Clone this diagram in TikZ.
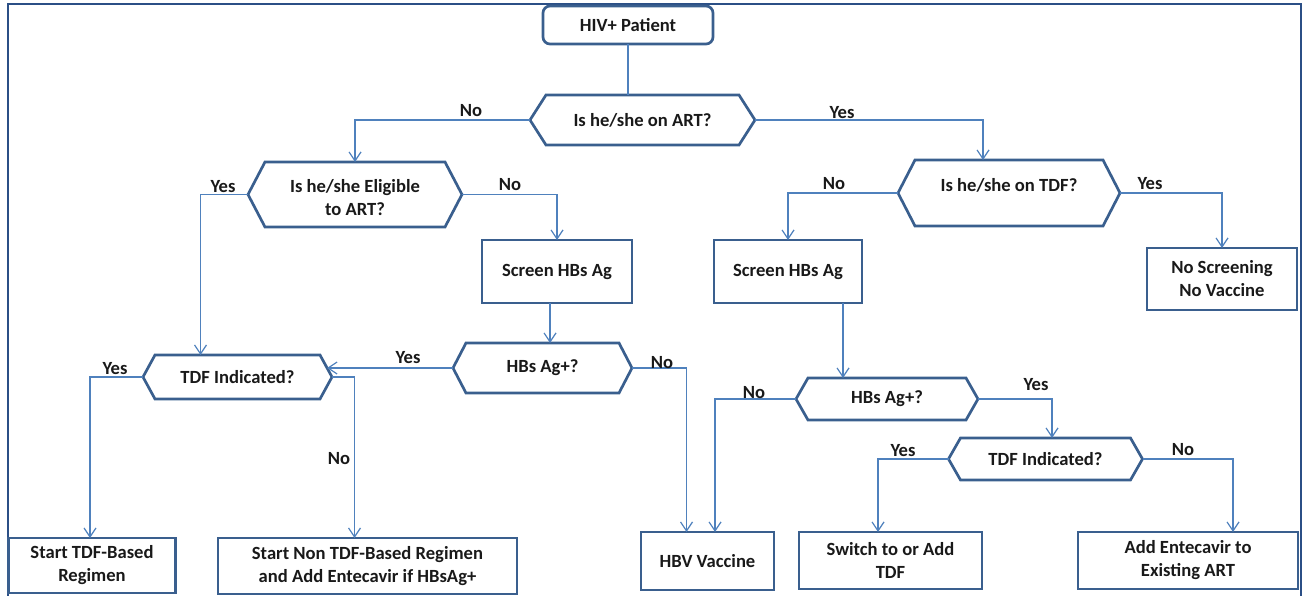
\documentclass[tikz,border=0pt]{standalone}
\usepackage{fontspec}
\setmainfont{Carlito}
\usetikzlibrary{arrows.meta}

\definecolor{shapeblue}{HTML}{3A5F8E}
\definecolor{linkblue}{HTML}{4F81BD}
\definecolor{framenavy}{HTML}{2B4F86}

% hexagonal decision outline around a (borderless) node
\newcommand{\hexframe}[2]{%
  \draw[hexline] (#1.west) -- ([xshift=#2]#1.north west) -- ([xshift=-#2]#1.north east)
    -- (#1.east) -- ([xshift=-#2]#1.south east) -- ([xshift=#2]#1.south west) -- cycle;}

\begin{document}
\begin{tikzpicture}[x=1pt, y=-1pt,
  font=\fontsize{18.6}{23}\selectfont\bfseries,
  every node/.style={inner sep=0pt, outer sep=0pt, align=center, text=black!90},
  box/.style={draw=shapeblue, line width=2.7pt},
  roundbox/.style={box, rounded corners=7pt},
  hexnode/.style={},
  hexline/.style={draw=shapeblue, line width=2.7pt, line join=miter},
  conn/.style={draw=linkblue, line width=1.3pt, -{Straight Barb[length=9pt,width=12pt,line width=1.2pt]}},
  plainconn/.style={draw=linkblue, line width=1.3pt},
  lbl/.style={}
]
\useasboundingbox (0,0) rectangle (1304,596);

% outer frame
\draw[framenavy, line width=2.4pt] (8,596) -- (8,4) -- (1301,4) -- (1301,596);

% ---- nodes ----
\node[roundbox, minimum width=170pt, minimum height=38pt] (hiv) at (628,25) {HIV+ Patient};

\node[hexnode, minimum width=225pt, minimum height=50pt] (art) at (642.5,120) {Is he/she on ART?};
\hexframe{art}{16pt}

\node[hexnode, minimum width=214pt, minimum height=65pt,
  label={[yshift=-3pt, align=center]center:{Is he/she Eligible\\to ART?}}] (elig) at (355,194.5) {};
\hexframe{elig}{17pt}

\node[hexnode, minimum width=222pt, minimum height=66pt, text depth=17pt] (ontdf) at (1009,193) {Is he/she on TDF?};
\hexframe{ontdf}{17pt}

\node[box, minimum width=150pt, minimum height=63pt] (scrL) at (557,271.5) {Screen HBs Ag};
\node[box, minimum width=148pt, minimum height=63pt] (scrR) at (788,271.5) {Screen HBs Ag};
\node[box, minimum width=150pt, minimum height=62pt] (noscr) at (1222,279) {No Screening\\No Vaccine};

\node[hexnode, minimum width=179pt, minimum height=50pt] (hbsL) at (542.5,368) {HBs Ag+?};
\hexframe{hbsL}{13pt}

\node[hexnode, minimum width=189pt, minimum height=44pt] (tdfL) at (237.5,377) {TDF Indicated?};
\hexframe{tdfL}{12pt}

\node[hexnode, minimum width=182pt, minimum height=42pt] (hbsR) at (887,399) {HBs Ag+?};
\hexframe{hbsR}{12pt}

\node[hexnode, minimum width=194pt, minimum height=42pt] (tdfR) at (1045.5,459) {TDF Indicated?};
\hexframe{tdfR}{12pt}

\node[box, minimum width=167pt, minimum height=55pt] (startTDF) at (92,565.5) {Start TDF-Based\\Regimen};
\node[box, minimum width=299pt, minimum height=56pt] (startNon) at (367.5,566) {Start Non TDF-Based Regimen\\and Add Entecavir if HBsAg+};
\node[box, minimum width=133pt, minimum height=58pt] (hbv) at (707.5,561) {HBV Vaccine};
\node[box, minimum width=183pt, minimum height=57pt] (switch) at (890.5,560.5) {Switch to or Add\\TDF};
\node[box, minimum width=220pt, minimum height=57pt] (addEnt) at (1188,560.5) {Add Entecavir to\\Existing ART};

% ---- connectors ----
\draw[plainconn] (hiv.south) -- (hiv.south |- art.north);
\draw[conn] (art.west) -| (elig.north);
\draw[conn] (art.east) -| ([xshift=-26pt]ontdf.north);
\draw[conn] (elig.west) -| ([xshift=-37pt]tdfL.north);
\draw[conn] (elig.east) -| (scrL.north);
\draw[conn] ([xshift=-7pt]scrL.south) -- ([xshift=-7pt]scrL.south |- hbsL.north);
\draw[conn] (hbsL.west) -- ([xshift=-5pt]hbsL.west -| tdfL.east);
\draw[conn] (hbsL.east) -| ([xshift=-21pt]hbv.north);
\draw[conn] (tdfL.west) -| ([xshift=-2pt]startTDF.north);
\draw[conn] (tdfL.east) -| ([xshift=-13pt]startNon.north);
\draw[conn] (ontdf.west) -| (scrR.north);
\draw[conn] (ontdf.east) -| (noscr.north);
\draw[conn] ([xshift=55pt]scrR.south) -- ([xshift=55pt]scrR.south |- hbsR.north);
\draw[conn] (hbsR.west) -| ([xshift=7.5pt]hbv.north);
\draw[conn] (hbsR.east) -| ([xshift=6.5pt]tdfR.north);
\draw[conn] (tdfR.west) -| ([xshift=-12.5pt]switch.north);
\draw[conn] (tdfR.east) -| ([xshift=45pt]addEnt.north);

% ---- branch labels ----
\node[lbl] (l1) at (471,111) {No};
\node[lbl] (l2) at (842,113) {Yes};
\node[lbl] (l3) at (223,187) {Yes};
\node[lbl] (l4) at (510,185) {No};
\node[lbl] (l5) at (408,358) {Yes};
\node[lbl] (l6) at (662,363) {No};
\node[lbl] (l7) at (115,369) {Yes};
\node[lbl] (l8) at (339,459) {No};
\node[lbl] (l9) at (834,184) {No};
\node[lbl] (l10) at (1150,184) {Yes};
\node[lbl] (l11) at (754,393) {No};
\node[lbl] (l12) at (1036,385) {Yes};
\node[lbl] (l13) at (903,451) {Yes};
\node[lbl] (l14) at (1183,450) {No};
\end{tikzpicture}
\end{document}
